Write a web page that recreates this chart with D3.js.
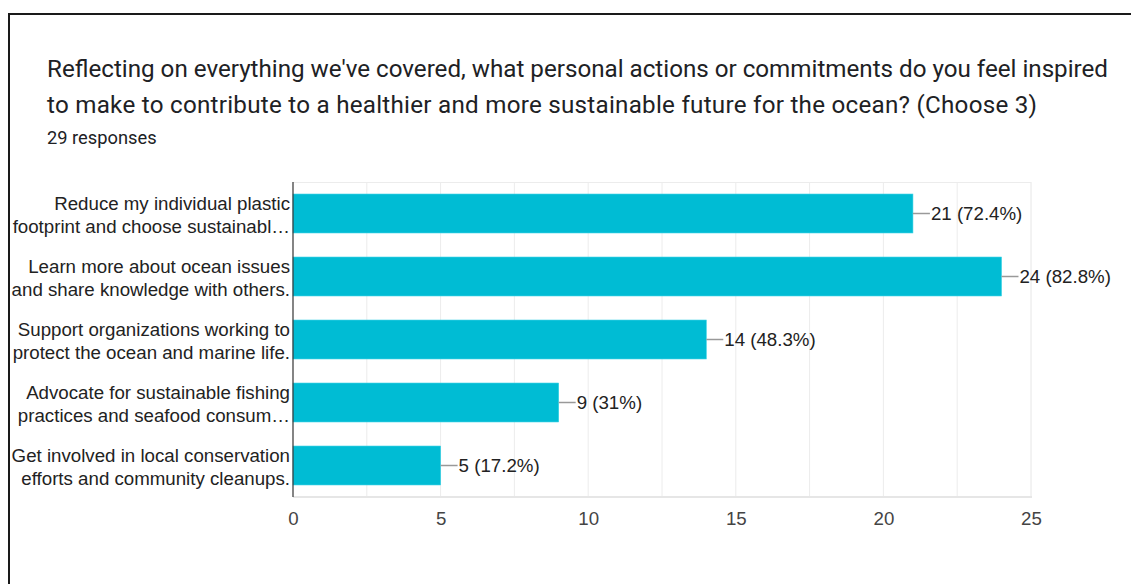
<!DOCTYPE html>
<html>
<head>
<meta charset="utf-8">
<script src="https://cdn.jsdelivr.net/npm/d3@7"></script>
<style>
  html, body { margin: 0; padding: 0; background: #fff; }
  svg { display: block; }
</style>
</head>
<body>
<svg id="chart" width="1131" height="584"></svg>
<script>
// Survey answers (two-line wrapped labels as shown on the axis)
const categories = [
  ["Reduce my individual plastic", "footprint and choose sustainabl…"],
  ["Learn more about ocean issues", "and share knowledge with others."],
  ["Support organizations working to", "protect the ocean and marine life."],
  ["Advocate for sustainable fishing", "practices and seafood consum…"],
  ["Get involved in local conservation", "efforts and community cleanups."]
];
const counts = [21, 24, 14, 9, 5];
const percents = ["72.4%", "82.8%", "48.3%", "31%", "17.2%"];
const xTicks = [0, 5, 10, 15, 20, 25];
const gridValues = [2.5, 5, 7.5, 10, 12.5, 15, 17.5, 20, 22.5, 25];

const titleLines = [
  "Reflecting on everything we've covered, what personal actions or commitments do you feel inspired",
  "to make to contribute to a healthier and more sustainable future for the ocean? (Choose 3)"
];
const subtitle = "29 responses";

const labelFont = "Arial, 'Liberation Sans', sans-serif";
const labelSize = 18.7;
const titleWidths = [1061, 990];

const svg = d3.select("#chart");

// card frame (top and left edges visible)
svg.append("path")
  .attr("d", "M9,584 L9,14 L1131,14")
  .attr("fill", "none")
  .attr("stroke", "#1a1a1a")
  .attr("stroke-width", 2);

// heading
svg.selectAll("text.title").data(titleLines).enter().append("text")
  .attr("class", "title")
  .attr("x", 47)
  .attr("y", (d, i) => 77 + i * 35.5)
  .attr("font-family", "Roboto, sans-serif")
  .attr("font-size", 24.2)
  .attr("fill", "#202124")
  .attr("textLength", (d, i) => titleWidths[i])
  .attr("lengthAdjust", "spacing")
  .text(d => d);

svg.append("text")
  .attr("x", 47)
  .attr("y", 144)
  .attr("font-family", "Roboto, sans-serif")
  .attr("font-size", 18.3)
  .attr("fill", "#202124")
  .text(subtitle);

// plot area
const plotL = 293, plotR = 1031, plotT = 182, plotB = 497;
const x = d3.scaleLinear().domain([0, 25]).range([plotL, plotR]);
const y = d3.scaleBand().domain(d3.range(counts.length)).range([plotT, plotB])
  .paddingInner(0.382).paddingOuter(0.191);

const g = svg.append("g");

// vertical gridlines
g.selectAll("line.grid").data(gridValues).enter().append("line")
  .attr("class", "grid")
  .attr("x1", d => x(d)).attr("x2", d => x(d))
  .attr("y1", plotT).attr("y2", plotB)
  .attr("stroke", d => d === 25 ? "#e6e6e6" : "#ececec")
  .attr("stroke-width", 1);

// top / bottom frame of plot
g.append("line")
  .attr("x1", plotL).attr("x2", plotR).attr("y1", plotT + 0.5).attr("y2", plotT + 0.5)
  .attr("stroke", "#ececec");
g.append("line")
  .attr("x1", plotL).attr("x2", plotR + 1).attr("y1", plotB).attr("y2", plotB)
  .attr("stroke", "#e6e6e6").attr("stroke-width", 2);

// bars
g.selectAll("rect.bar").data(counts).enter().append("rect")
  .attr("class", "bar")
  .attr("x", x(0))
  .attr("y", (d, i) => y(i))
  .attr("width", d => x(d) - x(0))
  .attr("height", y.bandwidth())
  .attr("fill", "#00bcd4")
  .attr("stroke", "#33d0e3")
  .attr("stroke-width", 0.6);

// baseline
g.append("line")
  .attr("x1", x(0)).attr("x2", x(0))
  .attr("y1", plotT).attr("y2", plotB)
  .attr("stroke", "#333").attr("stroke-width", 1.2);

// value annotations with leader lines
const ann = g.selectAll("g.ann").data(counts).enter().append("g").attr("class", "ann");
ann.append("line")
  .attr("x1", d => x(d))
  .attr("x2", d => x(d) + 17)
  .attr("y1", (d, i) => y(i) + y.bandwidth() / 2)
  .attr("y2", (d, i) => y(i) + y.bandwidth() / 2)
  .attr("stroke", "#999").attr("stroke-width", 1.5);
ann.append("text")
  .attr("x", d => x(d) + 18)
  .attr("y", (d, i) => y(i) + y.bandwidth() / 2)
  .attr("dy", "0.36em")
  .attr("font-family", labelFont)
  .attr("font-size", labelSize)
  .attr("fill", "#222")
  .text((d, i) => `${d} (${percents[i]})`);

// category labels
const cat = g.selectAll("text.cat").data(categories).enter().append("text")
  .attr("class", "cat")
  .attr("text-anchor", "end")
  .attr("font-family", labelFont)
  .attr("font-size", labelSize)
  .attr("fill", "#222");
cat.each(function(lines, i) {
  d3.select(this).selectAll("tspan").data(lines).enter().append("tspan")
    .attr("x", 290)
    .attr("y", (d, j) => y(i) + y.bandwidth() / 2 + (j === 0 ? -3.8 : 19))
    .text(d => d);
});

// x axis tick labels
const axis = d3.axisBottom(x).tickValues(xTicks).tickSize(0).tickPadding(15);
const ax = svg.append("g").attr("transform", `translate(0,${plotB})`).call(axis);
ax.select(".domain").remove();
ax.selectAll("text")
  .attr("font-family", labelFont)
  .attr("font-size", labelSize)
  .attr("fill", "#444");
</script>
</body>
</html>
